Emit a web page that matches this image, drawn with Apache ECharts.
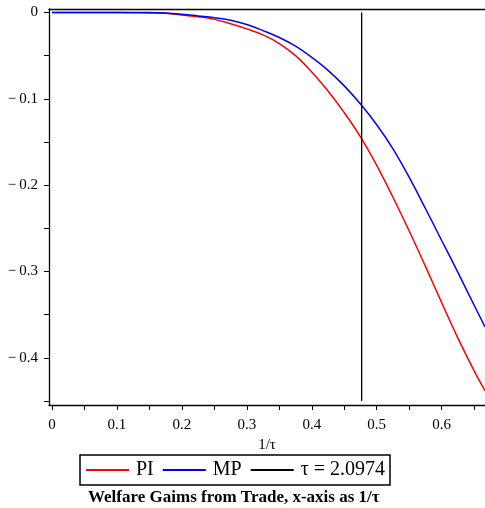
<!DOCTYPE html>
<html>
<head>
<meta charset="utf-8">
<script src="https://cdn.jsdelivr.net/npm/echarts@6/dist/echarts.min.js"></script>
<style>html,body{margin:0;padding:0;background:#fff}#c{width:485px;height:508px}</style>
</head>
<body>
<div id="c"></div>
<script>
const xValues = [0, 0.05, 0.1, 0.15, 0.175, 0.2, 0.225, 0.25, 0.275, 0.3, 0.325, 0.35, 0.375, 0.4, 0.425, 0.45, 0.475, 0.5, 0.525, 0.55, 0.575, 0.6, 0.625, 0.65, 0.6667];
const piValues = [0, 0, 0, -0.0005, -0.001, -0.003, -0.005, -0.008, -0.013, -0.019, -0.026, -0.036, -0.050, -0.069, -0.091, -0.116, -0.144, -0.177, -0.214, -0.253, -0.294, -0.336, -0.377, -0.415, -0.438];
const mpValues = [0, 0, 0, 0, -0.0005, -0.002, -0.004, -0.006, -0.009, -0.014, -0.021, -0.029, -0.039, -0.052, -0.067, -0.085, -0.106, -0.130, -0.158, -0.191, -0.227, -0.264, -0.301, -0.339, -0.364];
const tau = 2.0974;
const tauLineY = [0, -0.45];
const xTicks = [0, 0.05, 0.1, 0.15, 0.2, 0.25, 0.3, 0.35, 0.4, 0.45, 0.5, 0.55, 0.6, 0.65];
const xTickLabels = [0, 0.1, 0.2, 0.3, 0.4, 0.5, 0.6];
const yTicks = [0, -0.05, -0.1, -0.15, -0.2, -0.25, -0.3, -0.35, -0.4, -0.45];
const yTickLabels = [0, -0.1, -0.2, -0.3, -0.4];

const serif = '"Liberation Serif", "DejaVu Serif", serif';
const pi = xValues.map((x, i) => [x, piValues[i]]);
const mp = xValues.map((x, i) => [x, mpValues[i]]);
const tauLine = tauLineY.map(y => [1 / tau, y]);

function fmt(v) {
  if (Math.abs(v) < 1e-9) return '0';
  const s = Math.abs(v).toFixed(1);
  return v < 0 ? '\u2212\u2009' + s : s;
}

const chart = echarts.init(document.getElementById('c'), null, {renderer: 'canvas'});
chart.setOption({
  animation: false,
  backgroundColor: '#fff',
  title: {
    text: 'Welfare Gaims from Trade, x-axis as 1/\u03c4',
    left: 88, top: 489,
    padding: 0,
    textStyle: {fontFamily: serif, fontWeight: 'bold', fontSize: 17, color: '#000'}
  },
  legend: {
    left: 80, top: 455,
    padding: [5, 5, 5, 5],
    itemGap: 8,
    itemWidth: 43, itemHeight: 12,
    borderColor: '#000', borderWidth: 1.5, borderRadius: 0,
    itemStyle: {opacity: 0},
    textStyle: {fontFamily: serif, fontSize: 20, color: '#000', padding: [0, 0, 0, 2]},
    data: ['PI', 'MP', '\u03c4 = ' + tau]
  },
  grid: {left: 49, right: 0, top: 9, bottom: 103, containLabel: false},
  xAxis: [{
    type: 'value', min: -0.0046, max: 0.6667,
    splitLine: {show: false},
    axisLine: {show: true, onZero: false, lineStyle: {color: '#000', width: 1.3}},
    axisTick: {show: true, length: 5, inside: false, customValues: xTicks, lineStyle: {color: '#000', width: 1}},
    axisLabel: {customValues: xTickLabels, margin: 13, fontFamily: serif, fontSize: 15, color: '#000', formatter: fmt},
    name: '1/\u03c4', nameLocation: 'middle', nameGap: 31,
    nameTextStyle: {fontFamily: serif, fontSize: 15, color: '#000'}
  }, {
    type: 'value', position: 'top', min: -0.0046, max: 0.6667,
    splitLine: {show: false},
    axisLine: {show: true, onZero: false, lineStyle: {color: '#000', width: 1.3}},
    axisTick: {show: false}, axisLabel: {show: false}
  }],
  yAxis: {
    type: 'value', min: -0.4545, max: 0.004,
    splitLine: {show: false},
    axisLine: {show: true, onZero: false, lineStyle: {color: '#000', width: 1.3}},
    axisTick: {show: true, length: 5, customValues: yTicks, lineStyle: {color: '#000', width: 1}},
    axisLabel: {customValues: yTickLabels, margin: 11, fontFamily: serif, fontSize: 15, color: '#000', formatter: fmt}
  },
  series: [
    {name: 'PI', type: 'line', data: pi, symbol: 'none', smooth: 0.4, lineStyle: {color: '#ff0000', width: 1.5}, itemStyle: {color: '#ff0000'}},
    {name: 'MP', type: 'line', data: mp, symbol: 'none', smooth: 0.4, lineStyle: {color: '#0000ff', width: 1.5}, itemStyle: {color: '#0000ff'}},
    {name: '\u03c4 = ' + tau, type: 'line', data: tauLine, symbol: 'none', lineStyle: {color: '#000', width: 1.3}, itemStyle: {color: '#000'}}
  ]
});
</script>
</body>
</html>
